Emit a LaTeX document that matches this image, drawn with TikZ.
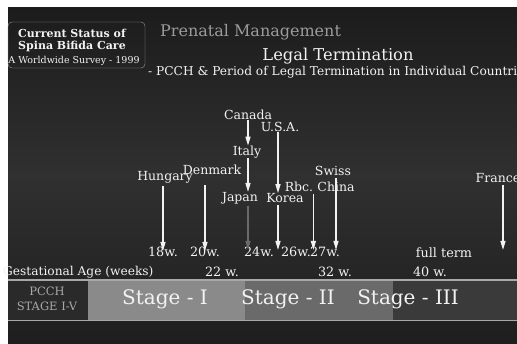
\documentclass[tikz,border=0pt]{standalone}
\usepackage{fontspec}
\setmainfont{DejaVu Serif}
\usetikzlibrary{arrows.meta,positioning,backgrounds}
\definecolor{slidetop}{HTML}{1C1C1C}
\definecolor{slidemid}{HTML}{303030}
\definecolor{slidelow}{HTML}{1E1E1E}
\definecolor{stageone}{HTML}{8A8A8A}
\definecolor{stagetwo}{HTML}{6A6A6A}
\definecolor{stagethree}{HTML}{3A3A3A}
\definecolor{pcchbg}{HTML}{2A2A2A}
\definecolor{railgray}{HTML}{A8A8A8}
\definecolor{softwhite}{HTML}{F2F2F2}
\definecolor{headgray}{HTML}{9C9C9C}
\begin{document}
\begin{tikzpicture}[
  x=1pt, y=-1pt,
  every node/.style={text=softwhite, inner sep=0pt},
  country/.style={font=\fontsize{12.5}{13}\selectfont},
  week/.style={font=\fontsize{12.8}{14}\selectfont},
  stagelabel/.style={font=\fontsize{20}{22}\selectfont},
  stagebar/.style={anchor=north west, minimum height=40pt, inner sep=0pt},
  downarrow/.style={-{Triangle[length=9pt,width=5pt]}, softwhite, line width=1.3pt},
  rail/.style={railgray, line width=1.6pt}
]
\useasboundingbox (0,0) rectangle (517,344);
\clip (0,0) rectangle (517,344);

% heading
\node[draw=headgray, rounded corners=4pt, minimum width=137pt, minimum height=46pt] (survey) at (76.5,45) {};
\node[font=\bfseries\fontsize{11}{12}\selectfont] (status) at (72,33) {Current Status of};
\node[font=\bfseries\fontsize{11}{12}\selectfont, below=3pt of status] (spina) {Spina Bifida Care};
\node[font=\fontsize{9.5}{10}\selectfont] (worldwide) at (74,61) {A Worldwide Survey - 1999};
\node[font=\fontsize{16}{17}\selectfont, text=headgray, anchor=west] (prenatal) at (160,32) {Prenatal Management};
\node[font=\fontsize{16.3}{17}\selectfont] (legal) at (338,56) {Legal Termination};
\node[font=\fontsize{12.2}{13}\selectfont, anchor=west] (period) at (148,72) {- PCCH \& Period of Legal Termination in Individual Countries};

% countries
\node[country] (canada) at (248,115) {Canada};
\node[country] (usa) at (280,127) {U.S.A.};
\node[country] (italy) at (247,152) {Italy};
\node[country] (denmark) at (212,170) {Denmark};
\node[country] (hungary) at (165,177) {Hungary};
\node[country] (swiss) at (333,171) {Swiss};
\node[country] (rbc) at (299,187) {Rbc.};
\node[country] (china) at (336,187) {China};
\node[country] (japan) at (240,198) {Japan};
\node[country] (korea) at (285,198) {Korea};
\node[country] (france) at (498,178) {France};

% weeks
\node[week] (w18) at (163,252) {18w.};
\node[week] (w20) at (205,252) {20w.};
\node[week] (w24) at (259,252) {24w.};
\node[week] (w26) at (296,252) {26w.};
\node[week] (w27) at (325,252) {27w.};
\node[week] (fullterm) at (444,253) {full term};
\node[week, font=\fontsize{12.2}{13}\selectfont, anchor=west] (gestational) at (3,272) {Gestational Age (weeks)};
\node[week] (w22) at (222,272) {22 w.};
\node[week] (w32) at (335,272) {32 w.};
\node[week] (w40) at (430,272) {40 w.};

% arrows
\draw[downarrow] (hungary.south -| w18) ++(0,3) -- ([yshift=-4pt]w18.north);
\draw[downarrow] (denmark.south -| w20) ++(0,10) -- ([yshift=-4pt]w20.north);
\draw[downarrow] (canada.south) -- (canada.south |- italy.north);
\draw[downarrow] (italy.south) ++(1,0) -- ([xshift=1pt]italy.south |- japan.north);
\draw[downarrow, stagetwo] ([xshift=8pt]japan.south) ++(0,2) -- ([xshift=8pt,yshift=-3pt]japan.south |- w24.north);
\draw[downarrow] ([xshift=-2pt]usa.south) -- ([xshift=-2pt]usa.south |- korea.north);
\draw[downarrow] ([xshift=-2pt]usa.south |- korea.south) ++(0,2) -- ([xshift=-2pt,yshift=-3pt]usa.south |- w26.north);
\draw[downarrow] (rbc.south east) ++(0,2) -- ([yshift=-3pt]rbc.south east |- w26.north);
\draw[downarrow] ([xshift=5pt]france.south) ++(0,2) -- ([xshift=5pt,yshift=-3pt]france.south |- w27.north);
\begin{scope}[on background layer]
\fill[white] (0,0) rectangle (517,344);
\shade[top color=slidetop, bottom color=slidelow, middle color=slidemid] (8,8) rectangle (517,344);
\draw[downarrow] ([xshift=3pt]swiss.south) ++(0,2) -- ([xshift=3pt,yshift=-3pt]swiss.south |- w27.north);
\end{scope}

% stage bar
\node[stagebar, fill=pcchbg, minimum width=80pt] (pcch) at (8,280) {};
\node[stagebar, fill=stageone, minimum width=157pt] (stage1) at (88,280) {};
\node[stagebar, fill=stagetwo, minimum width=148pt] (stage2) at (245,280) {};
\node[stagebar, fill=stagethree, minimum width=124pt] (stage3) at (393,280) {};
\draw[rail] (pcch.north west) -- (stage3.north east);
\draw[rail] (pcch.south west) -- (stage3.south east);
\node[font=\fontsize{11.5}{15}\selectfont, text=railgray, align=center] (pcchlabel) at (47,299) {PCCH\\STAGE I-V};
\node[stagelabel] (label1) at (165,299) {Stage - I};
\node[stagelabel] (label2) at (288,299) {Stage - II};
\node[stagelabel] (label3) at (408,299) {Stage - III};
\end{tikzpicture}
\end{document}
